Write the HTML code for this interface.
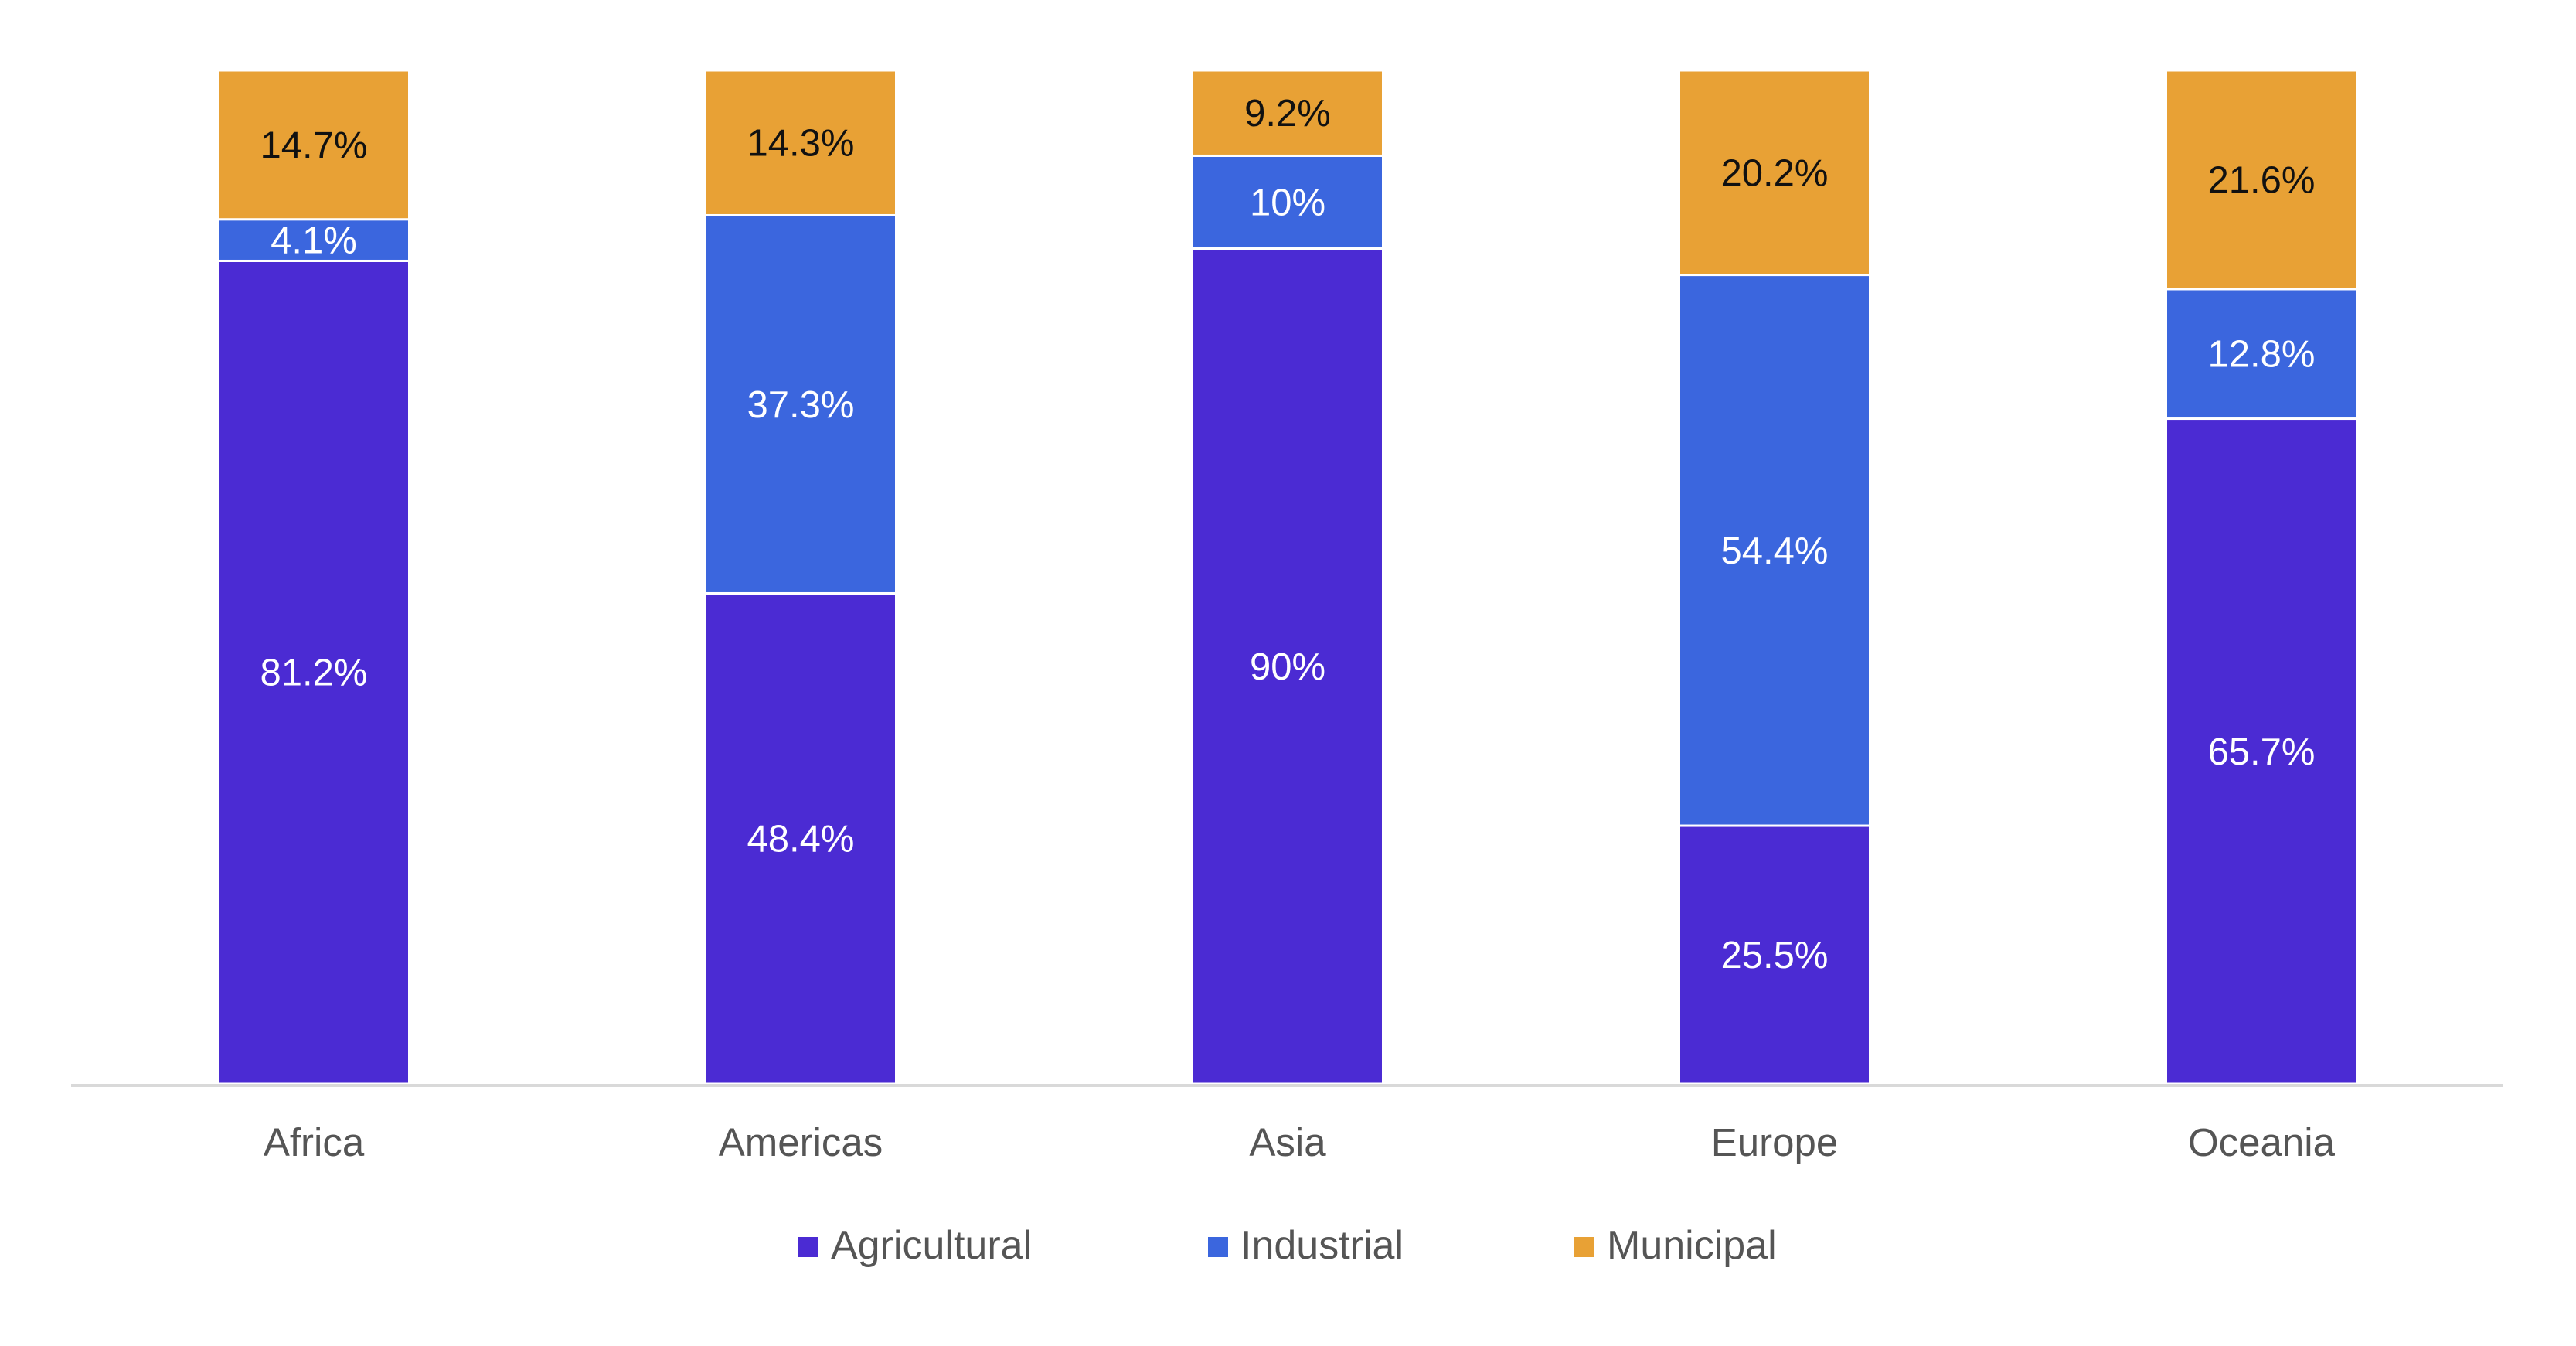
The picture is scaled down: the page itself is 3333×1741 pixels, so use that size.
<!DOCTYPE html>
<html><head><meta charset="utf-8"><style>
html,body{margin:0;padding:0;background:#fff;}
svg{display:block;font-family:"Liberation Sans",sans-serif;}
</style></head><body>
<svg id="chart" width="3333" height="1741" viewBox="0 0 3333 1741">
<g id="bars"></g>
<line x1="92" x2="3238" y1="1404" y2="1404" stroke="#d9d9d9" stroke-width="4"/>
<g id="xlabels"></g>
<g>
<g><rect x="1032" y="1600" width="26" height="26" fill="#4b2bd3"/><text x="1075" y="1628" font-size="52" fill="#555">Agricultural</text></g>
<g><rect x="1563" y="1600" width="26" height="26" fill="#3b66de"/><text x="1605" y="1628" font-size="52" fill="#555">Industrial</text></g>
<g><rect x="2036" y="1600" width="26" height="26" fill="#e8a135"/><text x="2079" y="1628" font-size="52" fill="#555">Municipal</text></g>
</g>
</svg>
<script>
const categories = ["Africa","Americas","Asia","Europe","Oceania"];
const agricultural = [81.2, 48.4, 90, 25.5, 65.7];
const industrial = [4.1, 37.3, 10, 54.4, 12.8];
const municipal = [14.7, 14.3, 9.2, 20.2, 21.6];
const seriesNames = ["agricultural","industrial","municipal"];

const NS = "http://www.w3.org/2000/svg";
const colors = ["#4b2bd3","#3b66de","#e8a135"];
const textColors = ["#fff","#fff","#111"];
const top0 = 91, base = 1402, barW = 247, x0 = 406, step = 630;
function y(frac){ return base - frac*(base-top0); }
function xc(i){ return x0 + i*step; }
const bars = document.getElementById('bars');
const xl = document.getElementById('xlabels');
const series = [agricultural, industrial, municipal];
categories.forEach((c,i)=>{
  const total = series.reduce((a,s)=>a+s[i],0);
  let cum = 0;
  series.forEach((s,k)=>{
    const v = s[i];
    const y1 = y(cum/total), y2 = y((cum+v)/total);
    const r = document.createElementNS(NS,'rect');
    r.setAttribute('x', xc(i)-barW/2);
    r.setAttribute('y', y2);
    r.setAttribute('width', barW);
    r.setAttribute('height', Math.max(0,y1-y2));
    r.setAttribute('fill', colors[k]);
    r.setAttribute('stroke', '#fff');
    r.setAttribute('stroke-width', '3');
    
    
    bars.appendChild(r);
    const t = document.createElementNS(NS,'text');
    t.setAttribute('x', xc(i));
    t.setAttribute('y', (y1+y2)/2 + 17);
    t.setAttribute('text-anchor','middle');
    t.setAttribute('font-size','49');
    t.setAttribute('fill', textColors[k]);
    t.textContent = v + '%';
    
    
    bars.appendChild(t);
    cum += v;
  });
  const lt = document.createElementNS(NS,'text');
  lt.setAttribute('x', xc(i));
  lt.setAttribute('y', 1495);
  lt.setAttribute('text-anchor','middle');
  lt.setAttribute('font-size','51');
  lt.setAttribute('fill','#555');
  lt.textContent = c;
  
  
  xl.appendChild(lt);
});
</script>
</body></html>
